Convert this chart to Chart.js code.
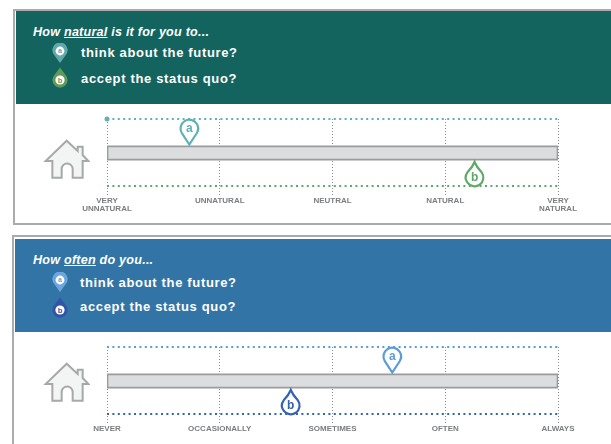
<!DOCTYPE html>
<html>
<head>
<meta charset="utf-8">
<script src="https://cdn.jsdelivr.net/npm/chart.js@4"></script>
<style>
  html, body { margin: 0; padding: 0; background: #fff; }
  body { position: relative; width: 611px; height: 444px; overflow: hidden; font-family: "Liberation Sans", Arial, sans-serif; }
  .frame { position: absolute; border: 2px solid #ababab; border-right: 0; box-sizing: border-box; }
  .head { position: absolute; left: 16px; width: 595px; height: 93px; color: #fff; }
  .head .q { position: absolute; left: 17px; font: italic bold 12.6px "Liberation Sans", Arial, sans-serif; letter-spacing: 0.22px; white-space: nowrap; }
  .head .a { position: absolute; left: 65px; font: bold 13px "Liberation Sans", Arial, sans-serif; letter-spacing: 0.66px; white-space: nowrap; }
  .head svg { position: absolute; left: 36px; }
  .house { position: absolute; left: 30px; }
  canvas { position: absolute; left: 0; }
</style>
</head>
<body>
  <div class="frame" style="left:13px;top:9px;width:598px;height:216px"></div>
  <div class="frame" style="left:12px;top:235px;width:599px;height:220px"></div>

  <div class="head" style="top:11px;background:#13635f">
    <div class="q" style="top:14px">How <u>natural</u> is it for you to...</div>
    <div class="a" style="top:34px">think about the future?</div>
    <div class="a" style="top:60px">accept the status quo?</div>
    <svg style="top:32px" width="16" height="21" viewBox="0 0 16 21">
      <path d="M8 20 L1.5 11 A7.6 7.6 0 1 1 14.5 11 Z" fill="#62a9ad"/>
      <circle cx="8" cy="8" r="4.4" fill="#fff"/>
      <text x="8" y="10.4" font-size="7" font-weight="bold" text-anchor="middle" fill="#62a9ad">a</text>
    </svg>
    <svg style="top:56px" width="16" height="21" viewBox="0 0 16 21">
      <path d="M8 0.5 L13.6 8 A7.6 7.6 0 1 1 2.4 8 Z" fill="#5f9a5c"/>
      <circle cx="8" cy="13" r="4.6" fill="#fff"/>
      <text x="8" y="15.6" font-size="7.5" font-weight="bold" text-anchor="middle" fill="#5f9a5c">b</text>
    </svg>
  </div>

  <div class="head" style="left:15px;width:596px;top:239px;background:#3274a6">
    <div class="q" style="left:18px;top:14px">How <u>often</u> do you...</div>
    <div class="a" style="left:65px;top:36px">think about the future?</div>
    <div class="a" style="left:65px;top:60px">accept the status quo?</div>
    <svg style="left:37px;top:33px" width="16" height="21" viewBox="0 0 16 21">
      <path d="M8 20 L1.5 11 A7.6 7.6 0 1 1 14.5 11 Z" fill="#6ba6de"/>
      <circle cx="8" cy="8" r="4.4" fill="#fff"/>
      <text x="8" y="10.4" font-size="7" font-weight="bold" text-anchor="middle" fill="#6ba6de">a</text>
    </svg>
    <svg style="left:37px;top:58px" width="16" height="21" viewBox="0 0 16 21">
      <path d="M8 0.5 L13.6 8 A7.6 7.6 0 1 1 2.4 8 Z" fill="#2f55a8"/>
      <circle cx="8" cy="13" r="4.6" fill="#fff"/>
      <text x="8" y="15.6" font-size="7.5" font-weight="bold" text-anchor="middle" fill="#2f55a8">b</text>
    </svg>
  </div>

  <svg class="house" style="top:105px" width="60" height="80" viewBox="0 0 180 240">
    <path d="M110 107 L47 168 L67 168 L67 218 L95 218 L95 192 A16.5 16.5 0 0 1 128 192 L128 218 L158 218 L158 168 L175 168 L158 150 L158 125 L143 125 L143 138 Z" fill="#f3f4f4" stroke="#a7a8aa" stroke-width="6"/>
  </svg>
  <svg class="house" style="top:327.5px" width="60" height="80" viewBox="0 0 180 240">
    <path d="M110 107 L47 168 L67 168 L67 218 L95 218 L95 192 A16.5 16.5 0 0 1 128 192 L128 218 L158 218 L158 168 L175 168 L158 150 L158 125 L143 125 L143 138 Z" fill="#f3f4f4" stroke="#a7a8aa" stroke-width="6"/>
  </svg>

  <canvas id="naturalChart" width="611" height="119" style="top:105px"></canvas>
  <canvas id="oftenChart" width="611" height="119" style="top:333px"></canvas>

<script>
  const naturalLabels = [["VERY", "UNNATURAL"], "UNNATURAL", "NEUTRAL", "NATURAL", ["VERY", "NATURAL"]];
  const oftenLabels = ["NEVER", "OCCASIONALLY", "SOMETIMES", "OFTEN", "ALWAYS"];
  const pinLetters = ["a", "b"];
  const naturalValues = [0.73, 3.26];
  const oftenValues = [2.53, 1.63];

  // the y axis only places the rows of the scale, it carries no data
  const TOP_ROW = 76;
  const BOTTOM_ROW = 9;
  const BAR_ROW = 42;
  const PIN_A_ROW = 50.5;
  const PIN_B_ROW = 33;

  function flatLine(row, color, startDot) {
    return {
      type: "scatter",
      showLine: true,
      data: [{ x: 0, y: row }, { x: 4, y: row }],
      borderColor: color,
      borderWidth: 2,
      borderDash: [2, 3.4],
      pointBackgroundColor: color,
      pointBorderWidth: 0,
      pointRadius: (ctx) => (startDot && ctx.dataIndex === 0 ? 2.5 : 0),
      clip: false
    };
  }

  function barLine(color, width, inset) {
    return {
      type: "scatter",
      showLine: true,
      data: [{ x: inset, y: BAR_ROW }, { x: 4 - inset, y: BAR_ROW }],
      borderColor: color,
      borderWidth: width,
      pointRadius: 0,
      clip: false
    };
  }

  function pinDataset(value, row, color) {
    return {
      type: "scatter",
      data: [{ x: value, y: row }],
      pointRadius: 0,
      pinColor: color,
      clip: false
    };
  }

  // draws the a/b markers with their tip on the scale position
  const pinPlugin = {
    id: "pins",
    afterDatasetsDraw(chart) {
      const ctx = chart.ctx;
      chart.data.datasets.forEach((dataset, i) => {
        if (!dataset.pinColor) return;
        const point = chart.getDatasetMeta(i).data[0];
        const isA = dataset.data[0].y > BAR_ROW;
        const r = 8.8;
        const cy = isA ? point.y - 16 : point.y + 15.5;
        ctx.save();
        ctx.beginPath();
        if (isA) {
          ctx.arc(point.x, cy, r, Math.PI * 0.82, Math.PI * 0.18);
          ctx.lineTo(point.x, point.y);
        } else {
          ctx.moveTo(point.x, point.y);
          ctx.quadraticCurveTo(point.x + 2, point.y + 5, point.x + r * 0.8, cy - r * 0.6);
          ctx.arc(point.x, cy, r, -Math.PI * 0.2, Math.PI * 1.2);
          ctx.quadraticCurveTo(point.x - 2, point.y + 5, point.x, point.y);
        }
        ctx.closePath();
        ctx.fillStyle = "#fff";
        ctx.fill();
        ctx.lineWidth = 2.2;
        ctx.lineJoin = "miter";
        ctx.strokeStyle = dataset.pinColor;
        ctx.stroke();
        ctx.fillStyle = dataset.pinColor;
        ctx.font = "bold 12px 'Liberation Sans', Arial, sans-serif";
        ctx.textAlign = "center";
        ctx.textBaseline = "middle";
        ctx.fillText(pinLetters[isA ? 0 : 1], point.x, cy + 0.5);
        ctx.restore();
      });
    }
  };

  function drawScale(canvasId, labels, values, colors, startDot) {
    new Chart(document.getElementById(canvasId), {
      type: "scatter",
      data: {
        datasets: [
          flatLine(TOP_ROW, colors[0], startDot),
          flatLine(BOTTOM_ROW, colors[1], false),
          // earlier datasets are painted on top of later ones
          barLine("#dcddde", 11.5, 0.012),
          barLine("#9a9b9d", 15, 0),
          pinDataset(values[0], PIN_A_ROW, colors[0]),
          pinDataset(values[1], PIN_B_ROW, colors[1])
        ]
      },
      options: {
        responsive: false,
        animation: false,
        layout: { padding: { left: 107, right: 53, top: 14, bottom: 0 } },
        plugins: { legend: { display: false }, tooltip: { enabled: false } },
        scales: {
          x: {
            type: "linear",
            min: 0,
            max: 4,
            afterFit: (scale) => { scale.height = 29; },
            border: { display: false, dash: [1, 2] },
            grid: { color: "#8a8b8d", lineWidth: 1, drawTicks: false },
            ticks: {
              stepSize: 1,
              autoSkip: false,
              maxRotation: 0,
              padding: 2,
              color: "#7b7d80",
              font: { family: "'Liberation Sans', Arial, sans-serif", size: 8, weight: "bold", lineHeight: 0.95 },
              callback: (value) => labels[value]
            }
          },
          y: { display: false, min: 0, max: TOP_ROW }
        }
      },
      plugins: [pinPlugin]
    });
  }

  drawScale("naturalChart", naturalLabels, naturalValues, ["#5fb1b3", "#60a868"], true);
  drawScale("oftenChart", oftenLabels, oftenValues, ["#5b9bd8", "#3562b2"], false);
</script>
</body>
</html>
